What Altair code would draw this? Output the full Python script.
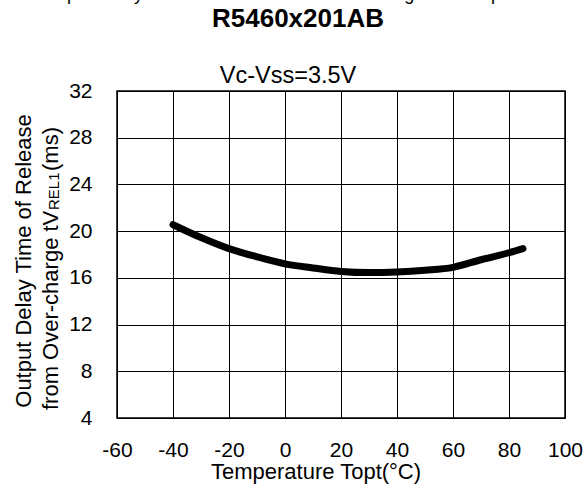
import altair as alt
import pandas as pd

FONT = "Liberation Sans"

# data
temps = [-40, -30, -20, -10, 0, 10, 20, 30, 40, 50, 60, 70, 80, 85]
delay = [20.55, 19.45, 18.5, 17.8, 17.2, 16.85, 16.55, 16.45, 16.5, 16.65, 16.9, 17.55, 18.15, 18.5]
x_ticks = [-60, -40, -20, 0, 20, 40, 60, 80, 100]
y_ticks = [4, 8, 12, 16, 20, 24, 28, 32]

top_text = ["Output Delay Time of Release from Over-charge vs. Temperature"]
title_text = ["R5460x201AB"]
sub_text = ["Vc-Vss=3.5V"]
xtitle_text = ["Temperature Topt(\u00b0C)"]
ytitle1 = ["Output Delay Time of  Release"]
ytitle2a = ["from Over-charge tV"]
ytitle2b = ["REL1"]
ytitle2c = ["(ms)"]

W, H = 448, 327
PL, PT = 117, 91

df = pd.DataFrame({"t": temps, "d": delay})

line = alt.Chart(df).mark_line(
    color="black", strokeWidth=7, strokeCap="round", strokeJoin="round", interpolate="monotone"
).encode(
    x=alt.X("t:Q", scale=alt.Scale(domain=[-60, 100], nice=False, zero=False),
            axis=alt.Axis(values=x_ticks, title=None, grid=True, gridColor="black", gridOpacity=1,
                          gridWidth=1, domain=False, ticks=False, labelFontSize=21, labelPadding=21,
                          labelColor="black", labelFont=FONT, labelFlush=False,
                          labelExpr="toString(datum.value)")),
    y=alt.Y("d:Q", scale=alt.Scale(domain=[4, 32], nice=False, zero=False),
            axis=alt.Axis(values=y_ticks, title=None, grid=True, gridColor="black", gridOpacity=1,
                          gridWidth=1, domain=False, ticks=False, labelFontSize=21, labelPadding=25,
                          labelColor="black", labelFont=FONT, labelFlush=False,
                          labelExpr="toString(datum.value)")),
)


def txt(values, x, y, size, align="center", weight="normal", angle=0, baseline="alphabetic"):
    d = pd.DataFrame({"s": values})
    kw = dict(font=FONT, fontSize=size, align=align, baseline=baseline, fontWeight=weight, color="black")
    if angle:
        kw["angle"] = angle
    return alt.Chart(d).mark_text(**kw).encode(
        x=alt.value(x - PL), y=alt.value(y - PT), text="s:N"
    )


layers = [
    line,
    txt(top_text, 298, 0, 18),
    txt(title_text, 298, 27, 26, weight="bold"),
    txt(sub_text, 288, 83, 23.5),
    txt(xtitle_text, 316, 479, 22),
    txt(ytitle1, 30.5, 261, 22, angle=270),
    txt(ytitle2a, 57.5, 410, 22, align="left", angle=270),
    txt(ytitle2b, 58.5, 210, 15, align="left", angle=270),
    txt(ytitle2c, 57.5, 171, 22, align="left", angle=270),
]

chart = alt.layer(*layers).properties(
    width=W, height=H,
    padding={"left": PL, "top": PT, "right": 584 - PL - W, "bottom": 485 - PT - H},
    autosize=alt.AutoSizeParams(type="none"),
    background="white",
).configure_view(stroke="black", strokeWidth=1.5)

chart.save("out.html", embed_options={"renderer": "svg", "actions": False})
